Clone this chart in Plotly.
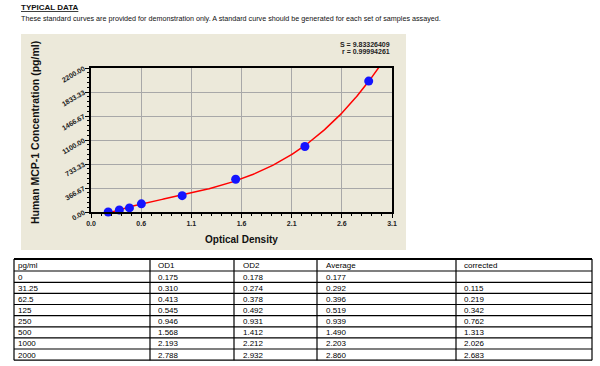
import numpy as np
import plotly.graph_objects as go

# ---- data ----
conc = [0, 31.25, 62.5, 125, 250, 500, 1000, 2000]
conc_labels = ["0", "31.25", "62.5", "125", "250", "500", "1000", "2000"]
od1 = ["0.175", "0.310", "0.413", "0.545", "0.946", "1.568", "2.193", "2.788"]
od2 = ["0.178", "0.274", "0.378", "0.492", "0.931", "1.412", "2.212", "2.932"]
avg = [0.177, 0.292, 0.396, 0.519, 0.939, 1.490, 2.203, 2.860]
corrected = ["", "0.115", "0.219", "0.342", "0.762", "1.313", "2.026", "2.683"]
table_header = ["pg/ml", "OD1", "OD2", "Average", "corrected"]
x_ticktext = ["0.0", "0.6", "1.1", "1.6", "2.1", "2.6", "3.1"]
y_ticktext = ["0.00", "366.67", "733.33", "1100.00", "1466.67", "1833.33", "2200.00"]
fit_s = "S = 9.83326409"
fit_r = "r = 0.99994261"

W, H = 600, 366
def px(x): return x / W
def py(y): return 1 - y / H

# fit curve from the data
coef = np.polyfit(avg, conc, 3)
xf = np.linspace(0.15, 2.98, 200)
yf = np.polyval(coef, xf)

x_tickvals = [i * 3.1 / 6 for i in range(7)]
y_tickvals = [i * 2200 / 6 for i in range(7)]

fig = go.Figure()
fig.add_trace(go.Scatter(x=xf, y=yf, mode="lines",
                         line=dict(color="#FF0000", width=1.5),
                         hoverinfo="skip", showlegend=False))
fig.add_trace(go.Scatter(x=avg, y=conc, mode="markers",
                         marker=dict(color="#1414FF", size=9),
                         cliponaxis=False, showlegend=False))

FONT = "Liberation Sans, Arial"
tickfont = dict(family=FONT, size=7, color="#222222")
fig.update_xaxes(
    domain=[px(91), px(392)], range=[0, 3.1], automargin=False,
    tickmode="array", tickvals=x_tickvals, ticktext=["<b>%s</b>" % t for t in x_ticktext],
    tickfont=tickfont, ticks="outside", ticklen=4, tickcolor="black",
    showgrid=True, gridcolor="#A8A8A8", gridwidth=1,
    showline=True, linecolor="black", linewidth=1.5, mirror=True,
    zeroline=False,
    minor=dict(tickmode="linear", tick0=0, dtick=3.1 / 30, ticks="outside",
               ticklen=2, tickcolor="black", showgrid=False),
    anchor="y",
)
fig.update_yaxes(
    domain=[py(212), py(68)], range=[0, 2200], automargin=False,
    tickmode="array", tickvals=y_tickvals, ticktext=["<b>%s</b>" % t for t in y_ticktext],
    tickfont=tickfont, tickangle=-30, ticks="outside", ticklen=4, tickcolor="black",
    showgrid=True, gridcolor="#A8A8A8", gridwidth=1,
    showline=True, linecolor="black", linewidth=1.5, mirror=True,
    zeroline=False,
    minor=dict(tickmode="linear", tick0=0, dtick=2200 / 30, ticks="outside",
               ticklen=2, tickcolor="black", showgrid=False),
    anchor="x",
)

shapes = []
annots = []
# beige panel behind chart
shapes.append(dict(type="rect", xref="paper", yref="paper", layer="below",
                   x0=px(21), x1=px(406), y0=py(250), y1=py(34),
                   fillcolor="#ECE9DA", line=dict(width=0)))

# header texts
annots.append(dict(x=px(19), y=py(1), xanchor="left", yanchor="top",
                   text="<b><u>TYPICAL DATA</u></b>",
                   font=dict(family=FONT, size=8, color="#111111")))
annots.append(dict(x=px(19), y=py(12), xanchor="left", yanchor="top",
                   text="These standard curves are provided for demonstration only. A standard curve should be generated for each set of samples assayed.",
                   font=dict(family=FONT, size=7.2, color="#111111")))
# axis titles
annots.append(dict(x=px(35), y=py(133), xanchor="center", yanchor="middle",
                   text="<b>Human MCP-1 Concentration (pg/ml)</b>", textangle=-90,
                   font=dict(family=FONT, size=10.5, color="#111111")))
annots.append(dict(x=px(241), y=py(240), xanchor="center", yanchor="middle",
                   text="<b>Optical Density</b>",
                   font=dict(family=FONT, size=10, color="#111111")))
# fit stats
for i, t in enumerate([fit_s, fit_r]):
    annots.append(dict(x=px(392), y=py(44 + 8 * i), xanchor="right", yanchor="middle",
                       text="<b>" + t + "</b>",
                       font=dict(family=FONT, size=7, color="#222222")))

# table drawn with shapes + text
col_x = [14, 150, 234, 317, 456, 592]
row_y = [259, 271, 282.3, 293.4, 304.5, 315.7, 326.8, 337.9, 349, 360.2]
pad = [2, 6.5, 6.5, 6.5, 5.5]
for xx in col_x:
    shapes.append(dict(type="line", xref="paper", yref="paper",
                       x0=px(xx), x1=px(xx), y0=py(row_y[0]), y1=py(row_y[-1]),
                       line=dict(color="black", width=1.2)))
for j, yy in enumerate(row_y):
    shapes.append(dict(type="line", xref="paper", yref="paper",
                       x0=px(col_x[0]), x1=px(col_x[-1]), y0=py(yy), y1=py(yy),
                       line=dict(color="black", width=2 if j == 0 else 1.2)))
columns = [conc_labels, od1, od2, ["%.3f" % v for v in avg], corrected]
rows = [table_header] + [[columns[c][r] for c in range(5)] for r in range(len(conc))]
for r, row in enumerate(rows):
    yc = (row_y[r] + row_y[r + 1]) / 2 + 0.5
    for c, val in enumerate(row):
        if val == "":
            continue
        annots.append(dict(x=px(col_x[c] + pad[c]), y=py(yc), xanchor="left", yanchor="middle",
                           text=val, font=dict(family=FONT, size=8, color="black")))

for a in annots:
    a.update(xref="paper", yref="paper", showarrow=False)

fig.update_layout(width=W, height=H, margin=dict(l=0, r=0, t=0, b=0, pad=0),
                  paper_bgcolor="white", plot_bgcolor="white", showlegend=False,
                  shapes=shapes, annotations=annots)
fig.write_html("out.html", config={"displayModeBar": False},
               post_script="document.body.style.margin='0';")
